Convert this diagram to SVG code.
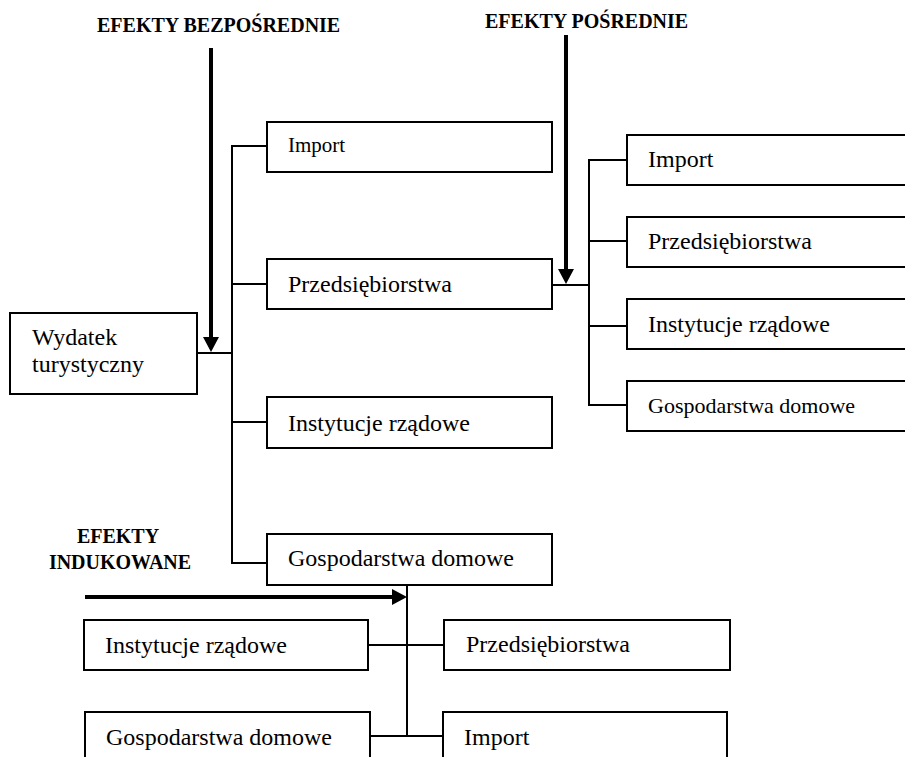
<svg xmlns="http://www.w3.org/2000/svg" width="905" height="757" viewBox="0 0 905 757">
<style>
.box{fill:#fff;stroke:#000;stroke-width:2}
.t{font-family:"Liberation Serif","Times New Roman",serif;font-size:24px;fill:#000}
.h{font-family:"Liberation Serif","Times New Roman",serif;font-size:20px;font-weight:bold;fill:#000}
.c{stroke:#000;stroke-width:2;fill:none}
.a{stroke:#000;stroke-width:4;fill:none;marker-end:url(#ah)}
</style>
<defs>
<marker id="ah" markerUnits="userSpaceOnUse" markerWidth="15" markerHeight="16" refX="0" refY="8" orient="auto">
<path d="M0,0 L15,8 L0,16 z" fill="#000"/>
</marker>
</defs>
<rect width="905" height="757" fill="#fff"/>

<g id="labels">
<text class="h" x="97" y="32">EFEKTY BEZPOŚREDNIE</text>
<text class="h" x="485" y="28">EFEKTY POŚREDNIE</text>
<text class="h" x="118" y="543" text-anchor="middle">EFEKTY</text>
<text class="h" x="120" y="569" text-anchor="middle">INDUKOWANE</text>
</g>

<g id="connectors">
<line class="c" x1="197" y1="353" x2="233" y2="353"/>
<line class="c" x1="232" y1="145" x2="232" y2="564"/>
<line class="c" x1="231" y1="146" x2="267" y2="146"/>
<line class="c" x1="231" y1="284" x2="267" y2="284"/>
<line class="c" x1="231" y1="422" x2="267" y2="422"/>
<line class="c" x1="231" y1="563" x2="267" y2="563"/>
<line class="c" x1="552" y1="285" x2="590" y2="285"/>
<line class="c" x1="589" y1="159" x2="589" y2="406"/>
<line class="c" x1="588" y1="160" x2="627" y2="160"/>
<line class="c" x1="588" y1="241" x2="627" y2="241"/>
<line class="c" x1="588" y1="326" x2="627" y2="326"/>
<line class="c" x1="588" y1="405" x2="627" y2="405"/>
<line class="c" x1="407" y1="585" x2="407" y2="737"/>
<line class="c" x1="368" y1="645" x2="444" y2="645"/>
<line class="c" x1="370" y1="736" x2="443" y2="736"/>
<line class="a" x1="211" y1="48" x2="211" y2="337"/>
<line class="a" x1="566" y1="35" x2="566" y2="269"/>
<line class="a" x1="85" y1="597" x2="392" y2="597"/>
</g>

<g id="wydatek">
<rect class="box" x="10" y="313" width="187" height="81"/>
<text class="t" x="32" y="345">Wydatek</text>
<text class="t" x="32" y="372">turystyczny</text>
</g>

<g id="b-import">
<rect class="box" x="267" y="122" width="285" height="50"/>
<text class="t" x="288" y="152" style="font-size:21px">Import</text>
</g>
<g id="b-przeds">
<rect class="box" x="267" y="259" width="285" height="50"/>
<text class="t" x="288" y="292">Przedsiębiorstwa</text>
</g>
<g id="b-inst">
<rect class="box" x="267" y="397" width="285" height="51"/>
<text class="t" x="288" y="431">Instytucje rządowe</text>
</g>
<g id="b-gosp">
<rect class="box" x="267" y="534" width="285" height="51"/>
<text class="t" x="288" y="566">Gospodarstwa domowe</text>
</g>

<g id="p-import">
<rect class="box" x="627" y="135" width="300" height="50"/>
<text class="t" x="648" y="167">Import</text>
</g>
<g id="p-przeds">
<rect class="box" x="627" y="217" width="300" height="50"/>
<text class="t" x="648" y="249">Przedsiębiorstwa</text>
</g>
<g id="p-inst">
<rect class="box" x="627" y="299" width="300" height="50"/>
<text class="t" x="648" y="332">Instytucje rządowe</text>
</g>
<g id="p-gosp">
<rect class="box" x="627" y="381" width="300" height="50"/>
<text class="t" x="648" y="413" style="font-size:22px">Gospodarstwa domowe</text>
</g>

<g id="i-inst">
<rect class="box" x="84" y="620" width="284" height="50"/>
<text class="t" x="105" y="653">Instytucje rządowe</text>
</g>
<g id="i-przeds">
<rect class="box" x="444" y="620" width="286" height="50"/>
<text class="t" x="466" y="652">Przedsiębiorstwa</text>
</g>
<g id="i-gosp">
<rect class="box" x="85" y="712" width="285" height="60"/>
<text class="t" x="106" y="745">Gospodarstwa domowe</text>
</g>
<g id="i-import">
<rect class="box" x="443" y="712" width="284" height="60"/>
<text class="t" x="464" y="745">Import</text>
</g>
</svg>
